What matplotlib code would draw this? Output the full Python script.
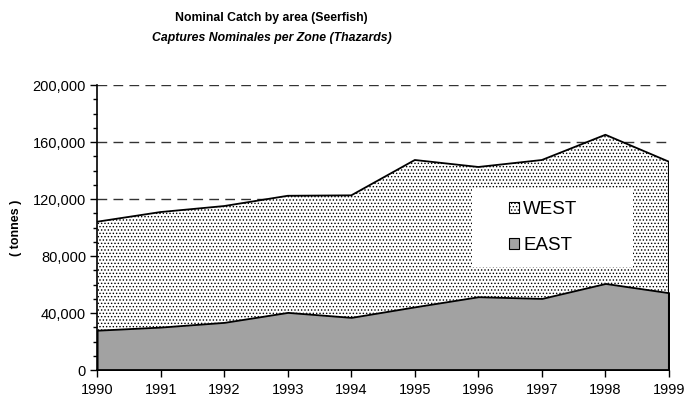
import matplotlib
matplotlib.use("Agg")
import matplotlib.pyplot as plt
from matplotlib.patches import Rectangle, Patch
from matplotlib.ticker import MultipleLocator, FuncFormatter

plt.rcParams['font.family'] = ['Liberation Sans', 'DejaVu Sans']
plt.rcParams['hatch.linewidth'] = 0.6

# data (tonnes)
years = [1990, 1991, 1992, 1993, 1994, 1995, 1996, 1997, 1998, 1999]
east = [28000, 30200, 33500, 40500, 37000, 44400, 51500, 50300, 60800, 54300]
west = [76100, 80700, 81600, 81800, 85600, 103000, 91000, 97100, 104300, 91900]
total = [e + w for e, w in zip(east, west)]

east_grey = '#a2a2a2'

fig = plt.figure(figsize=(6.84, 4.01), dpi=100)
ax = fig.add_axes([0.142, 0.077, 0.836, 0.711])

# dashed gridlines behind the areas
for y in range(40000, 200001, 40000):
    ax.axhline(y, color='#333333', lw=1.0, ls=(0, (7, 4.5)), zorder=0)

ax.fill_between(years, 0, east, facecolor=east_grey, edgecolor='black',
                lw=1.3, zorder=2)
ax.fill_between(years, east, total, facecolor='white', edgecolor='black',
                hatch='.....', lw=0, zorder=1)
ax.plot(years, total, color='black', lw=1.3, zorder=3)
# right-hand edge of the stack
ax.vlines(years[-1], 0, total[-1], color='black', lw=1.5, zorder=3)

ax.set_xlim(1990, 1999)
ax.set_ylim(0, 200000)
ax.set_xticks(years)
ax.yaxis.set_major_locator(MultipleLocator(40000))
ax.yaxis.set_minor_locator(MultipleLocator(10000))
ax.yaxis.set_major_formatter(FuncFormatter(lambda v, p: f"{int(v):,}"))
ax.tick_params(axis='both', which='major', direction='out', length=5,
               width=1, labelsize=10.5)
ax.tick_params(axis='y', which='minor', direction='out', length=3, width=1)
ax.tick_params(axis='y', pad=3)
ax.tick_params(axis='x', pad=4)

for s in ['top', 'right']:
    ax.spines[s].set_visible(False)
ax.spines['left'].set_linewidth(1.2)
ax.spines['bottom'].set_linewidth(1.2)

ax.set_ylabel('( tonnes )', fontsize=9, fontweight='bold', labelpad=8)

# white legend box
ax.add_patch(Rectangle((0.655, 0.362), 0.283, 0.277, transform=ax.transAxes,
                       facecolor='white', edgecolor='none', zorder=4))
handles = [Patch(facecolor='white', edgecolor='black', hatch='.....', lw=0.8),
           Patch(facecolor=east_grey, edgecolor='black', lw=0.8)]
leg = ax.legend(handles, ['WEST', 'EAST'], loc='center',
                bbox_to_anchor=(0.78, 0.5), frameon=False, fontsize=13.5,
                handlelength=0.55, handleheight=0.55, handletextpad=0.2,
                labelspacing=1.0)
leg.set_zorder(5)

fig.text(0.397, 0.955, 'Nominal Catch by area (Seerfish)', ha='center',
         va='center', fontsize=8.8, fontweight='bold')
fig.text(0.397, 0.905, 'Captures Nominales per Zone (Thazards)', ha='center',
         va='center', fontsize=8.8, fontweight='bold', style='italic')

fig.savefig('out.png', dpi=100)
